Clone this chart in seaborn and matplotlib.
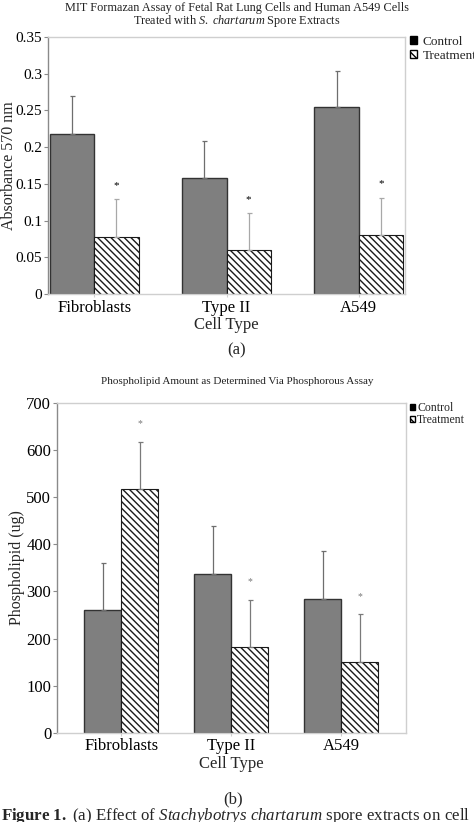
import matplotlib
matplotlib.use("Agg")
import matplotlib.pyplot as plt
from matplotlib.patches import Patch
import seaborn as sns
import pandas as pd
import numpy as np

# ---------------- data ----------------
cell_types = ["Fibroblasts", "Type II", "A549"]
groups = ["Control", "Treatment"]

mtt_control = [0.218, 0.158, 0.254]
mtt_control_err = [0.051, 0.051, 0.050]
mtt_treatment = [0.078, 0.060, 0.080]
mtt_treatment_err = [0.051, 0.050, 0.051]

pl_control = [260, 337, 284]
pl_control_err = [101, 101, 101]
pl_treatment = [518, 182, 151]
pl_treatment_err = [100, 100, 100]

yticks_a = [0, 0.05, 0.1, 0.15, 0.2, 0.25, 0.3, 0.35]
yticklabels_a = ["0", "0.05", "0.1", "0.15", "0.2", "0.25", "0.3", "0.35"]
yticks_b = [0, 100, 200, 300, 400, 500, 600, 700]
yticklabels_b = ["0", "100", "200", "300", "400", "500", "600", "700"]

# ---------------- style ----------------
sns.set_theme(style="white")
plt.rcParams["font.family"] = ["Liberation Serif", "DejaVu Serif"]
plt.rcParams["mathtext.fontset"] = "custom"
plt.rcParams["mathtext.rm"] = "Liberation Serif"
plt.rcParams["mathtext.it"] = "Liberation Serif:italic"
plt.rcParams["mathtext.bf"] = "Liberation Serif:bold"
plt.rcParams["hatch.linewidth"] = 1.0

W, H = 474, 822
fig = plt.figure(figsize=(W / 100, H / 100), dpi=100)


def px_axes(l, t, r, b):
    return fig.add_axes([l / W, 1 - b / H, (r - l) / W, (b - t) / H])


def make_df(ctrl, trt):
    return pd.DataFrame({
        "cell": cell_types * 2,
        "group": [groups[0]] * 3 + [groups[1]] * 3,
        "value": list(ctrl) + list(trt),
    })


def panel(ax, ctrl, ctrl_err, trt, trt_err, yticks, ylabels, ylabel,
          xlim, err_colors, star_color, star_size, star_off, ylab_x, ytick_fs):
    df = make_df(ctrl, trt)
    sns.barplot(data=df, x="cell", y="value", hue="group", hue_order=groups,
                order=cell_types, palette=["#7f7f7f", "white"], width=0.67,
                errorbar=None, legend=False, ax=ax, saturation=1)
    for p in ax.containers[0]:
        p.set_edgecolor("#333333")
        p.set_linewidth(1.0)
    for p in ax.containers[1]:
        p.set_facecolor("white")
        p.set_edgecolor("#1a1a1a")
        p.set_hatch("\\" * 5)
        p.set_linewidth(0.8)
    for cont, errs, col in zip(ax.containers, [ctrl_err, trt_err], err_colors):
        xs = [p.get_x() + p.get_width() / 2 for p in cont]
        ys = [p.get_height() for p in cont]
        ax.errorbar(xs, ys, yerr=[np.zeros(len(errs)), errs], fmt="none",
                    ecolor=col, elinewidth=0.9, capsize=1.8, capthick=0.9,
                    zorder=1)
    for p, e in zip(ax.containers[1], trt_err):
        xs = p.get_x() + p.get_width() / 2
        ax.annotate("*", (xs, p.get_height() + e), xytext=(0, star_off),
                    textcoords="offset points", ha="center", va="center",
                    fontsize=star_size, color=star_color)
    ax.set_xlim(*xlim)
    ax.set_ylim(yticks[0], yticks[-1])
    ax.set_yticks(yticks)
    ax.set_yticklabels(ylabels, fontsize=ytick_fs)
    ax.set_xticks(range(len(cell_types)))
    ax.set_xticklabels(cell_types, fontsize=12)
    ax.set_xlabel("Cell Type", fontsize=12, labelpad=1)
    ax.set_ylabel(ylabel, fontsize=11.5)
    ax.yaxis.label.set_va("center")
    pos = ax.get_position()
    ax.yaxis.set_label_coords(ylab_x / W, pos.y0 + pos.height / 2,
                              transform=fig.transFigure)
    for s in ["top", "right", "bottom"]:
        ax.spines[s].set_color("#cfcfcf")
        ax.spines[s].set_linewidth(1.0)
    ax.spines["left"].set_color("#8a8a8a")
    ax.spines["left"].set_linewidth(1.0)
    ax.tick_params(axis="y", left=True, length=3, width=0.8, color="#8a8a8a",
                   pad=1, labelcolor="black")
    ax.tick_params(axis="x", bottom=True, length=2, width=0.8, color="#cfcfcf",
                   pad=2, labelcolor="black")


# ---------------- panel (a) ----------------
ax1 = px_axes(48, 37, 405, 294)
panel(ax1, mtt_control, mtt_control_err, mtt_treatment, mtt_treatment_err,
      yticks_a, yticklabels_a, "Absorbance 570 nm", (-0.35, 2.35),
      ["#6e6e6e", "#a8a8a8"], "black", 8, 10, 9, 11)
fig.text(237 / W, 1 - 2 / H,
         "MIT Formazan Assay of Fetal Rat Lung Cells and Human A549 Cells\n"
         "Treated with $\\it{S.\\ chartarum}$ Spore Extracts",
         ha="center", va="top", fontsize=8.8, linespacing=0.95, color="#222222")
fig.text(237 / W, 1 - 350 / H, "(a)", ha="center", va="center", fontsize=12)
ax1.legend(handles=[Patch(facecolor="black", edgecolor="black"),
                    Patch(facecolor="white", edgecolor="black", hatch="\\" * 4)],
           labels=groups, loc="upper left", bbox_to_anchor=(410 / W, 1 - 36 / H),
           bbox_transform=fig.transFigure, frameon=False, fontsize=9.5,
           handlelength=0.55, handleheight=0.55, handletextpad=0.4,
           labelspacing=0.15, borderaxespad=0, borderpad=0)

# ---------------- panel (b) ----------------
ax2 = px_axes(56.7, 403, 405.7, 732.7)
panel(ax2, pl_control, pl_control_err, pl_treatment, pl_treatment_err,
      yticks_b, yticklabels_b, "Phospholipid (ug)", (-0.585, 2.585),
      ["#6e6e6e", "#7a7a7a"], "#777777", 7, 13, 17, 12)
fig.text(237 / W, 1 - 381 / H,
         "Phospholipid Amount as Determined Via Phosphorous Assay",
         ha="center", va="center", fontsize=8, color="#222222")
fig.text(233 / W, 1 - 799 / H, "(b)", ha="center", va="center", fontsize=12)
ax2.legend(handles=[Patch(facecolor="black", edgecolor="black"),
                    Patch(facecolor="white", edgecolor="black", hatch="\\" * 4)],
           labels=groups, loc="upper left", bbox_to_anchor=(410 / W, 1 - 402 / H),
           bbox_transform=fig.transFigure, frameon=False, fontsize=8.5,
           handlelength=0.45, handleheight=0.45, handletextpad=0.15,
           labelspacing=0.0, borderaxespad=0, borderpad=0)

# ---------------- caption (cut off at bottom) ----------------
fig.text(1 / W, 1 - 820 / H,
         "$\\bf{Figure\\ 1.}$ (a) Effect of $\\it{Stachybotrys\\ chartarum}$ "
         "spore extracts on cell",
         ha="left", va="baseline", fontsize=12.2)

fig.savefig("out.png", dpi=100)
